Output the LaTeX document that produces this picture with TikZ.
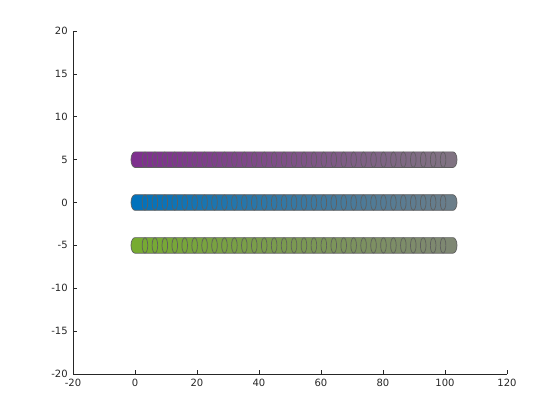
\documentclass[tikz,border=0pt]{standalone}
\usepackage{fontspec}
\setmainfont{DejaVu Sans}

\definecolor{axisgray}{RGB}{38,38,38}
\definecolor{rowpurple}{rgb}{0.494,0.184,0.556}
\definecolor{rowblue}{rgb}{0,0.447,0.741}
\definecolor{rowgreen}{rgb}{0.466,0.674,0.188}
\definecolor{endgray}{RGB}{128,128,128}
\definecolor{edgegray}{RGB}{95,95,95}

\tikzset{
    axisline/.style={draw=axisgray, line width=0.6pt},
    ticklabel/.style={font=\fontsize{10}{12}\selectfont, text=axisgray, inner sep=1pt},
    blobedge/.style={draw=edgegray, line width=0.7pt},
}

\begin{document}
\begin{tikzpicture}[x=3.1pt, y=8.575pt]
    \useasboundingbox (-43.55, -25.36) rectangle (137.10, 23.62);

    %% rows of ellipses: shaded band, inner edges, outline
    \foreach \yr/\col in {5/rowpurple, 0/rowblue, -5/rowgreen}
    {
        \shade[left color=\col, right color=\col!15!endgray]
            (0, \yr) ++(0pt, 7.8pt) -- ++(318pt, 0pt)
            arc[start angle=90, end angle=-90, x radius=4pt, y radius=7.8pt]
            -- ++(-318pt, 0pt)
            arc[start angle=270, end angle=90, x radius=4pt, y radius=7.8pt] -- cycle;
        \foreach \i [evaluate=\i as \xc using \i*3.206] in {1, ..., 31}
            \draw[blobedge] (\xc, \yr) ellipse [x radius=2.8pt, y radius=7.6pt];
        \draw[blobedge]
            (0, \yr) ++(0pt, 7.8pt) -- ++(318pt, 0pt)
            arc[start angle=90, end angle=-90, x radius=4pt, y radius=7.8pt]
            -- ++(-318pt, 0pt)
            arc[start angle=270, end angle=90, x radius=4pt, y radius=7.8pt] -- cycle;
    }

    %% axes
    \draw[axisline] (-20, 20) -- (-20, -20) -- (120, -20);
    \foreach \x in {-20, 0, ..., 120}
        \draw[axisline] (\x, -20) -- ++(0pt, 4pt)
            node[ticklabel, below=4pt] (xt\x) at (\x, -20) {\x};
    \foreach \y in {-20, -15, ..., 20}
        \draw[axisline] (-20, \y) -- ++(4pt, 0pt)
            node[ticklabel, left=4pt] (yt\y) at (-20, \y) {\y};
\end{tikzpicture}
\end{document}
